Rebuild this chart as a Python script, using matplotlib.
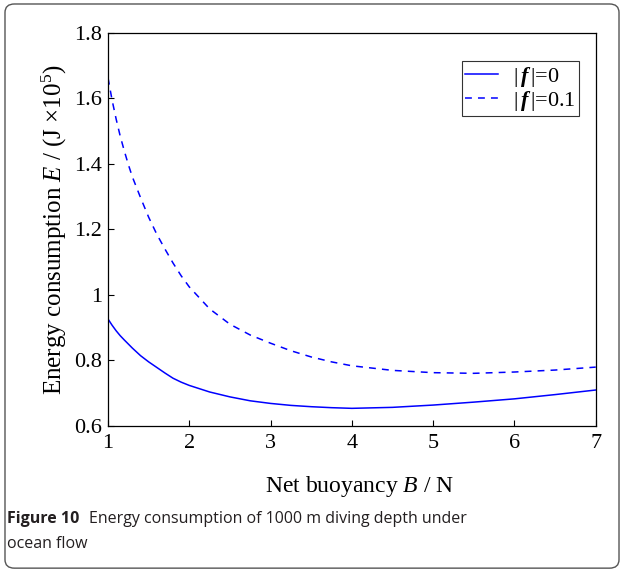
import matplotlib
matplotlib.use("Agg")
import matplotlib.pyplot as plt
from matplotlib.patches import FancyBboxPatch

plt.rcParams['font.family'] = 'Liberation Serif'
plt.rcParams['mathtext.fontset'] = 'custom'
plt.rcParams['mathtext.rm'] = 'Liberation Serif'
plt.rcParams['mathtext.it'] = 'Liberation Serif:italic'
plt.rcParams['mathtext.bf'] = 'Liberation Serif:bold:italic'

# values
b_f0 = [1.0, 1.05, 1.1, 1.15, 1.2, 1.3, 1.4, 1.5, 1.6, 1.7, 1.8, 1.9, 2.0, 2.25,
        2.5, 2.75, 3.0, 3.25, 3.5, 3.75, 4.0, 4.5, 5.0, 5.5, 6.0, 6.5, 7.0]
e_f0 = [0.926, 0.907, 0.890, 0.875, 0.862, 0.837, 0.814, 0.795, 0.778, 0.761,
        0.745, 0.733, 0.723, 0.703, 0.688, 0.676, 0.668, 0.662, 0.658, 0.655,
        0.653, 0.656, 0.663, 0.672, 0.682, 0.695, 0.709]

b_f01 = [1.0, 1.05, 1.1, 1.15, 1.2, 1.25, 1.3, 1.4, 1.5, 1.6, 1.7, 1.8, 1.9, 2.0,
         2.25, 2.5, 2.75, 3.0, 3.25, 3.5, 3.75, 4.0, 4.5, 5.0, 5.5, 6.0, 6.5, 7.0]
e_f01 = [1.663, 1.595, 1.537, 1.485, 1.440, 1.398, 1.360, 1.297, 1.237, 1.185,
         1.140, 1.097, 1.058, 1.024, 0.957, 0.910, 0.877, 0.852, 0.829, 0.810,
         0.795, 0.783, 0.769, 0.762, 0.760, 0.764, 0.770, 0.779]

labels = [r'|$\,\mathbf{f}\,$|=0', r'|$\,\mathbf{f}\,$|=0.1']
xticks = [1, 2, 3, 4, 5, 6, 7]
yticks = [0.6, 0.8, 1.0, 1.2, 1.4, 1.6, 1.8]
ytick_labels = ['0.6', '0.8', '1', '1.2', '1.4', '1.6', '1.8']

fig = plt.figure(figsize=(6.24, 5.71), dpi=100)
ax = fig.add_axes([0.1731, 0.2545, 0.7816, 0.6877])

ax.plot(b_f0, e_f0, color='#0000ff', lw=1.1, label=labels[0])
ax.plot(b_f01, e_f01, color='#0000ff', lw=1.1, ls=(0, (4.5, 4)), label=labels[1])

ax.set_xlim(1, 7)
ax.set_ylim(0.6, 1.8)
ax.set_xticks(xticks)
ax.set_yticks(yticks)
ax.set_yticklabels(ytick_labels)
ax.tick_params(direction='in', length=4, width=0.8, labelsize=16, colors='black')
ax.tick_params(axis='x', pad=6)
ax.tick_params(axis='y', pad=4)
for s in ax.spines.values():
    s.set_linewidth(0.9)

ax.set_xlabel(r'Net buoyancy $B$ / N', fontsize=17)
ax.xaxis.set_label_coords(0.515, -0.168, transform=ax.transAxes)
ax.xaxis.label.set_va('baseline')
ax.set_ylabel(r'Energy consumption $E$ / (J $\times$10$^5$)', fontsize=18, labelpad=4)

leg = ax.legend(loc='upper right', bbox_to_anchor=(0.9655, 0.928), fontsize=16,
                frameon=True, fancybox=False, edgecolor='black', handlelength=1.5,
                borderpad=0.15, labelspacing=0.0, handletextpad=0.65, borderaxespad=0)
leg.get_frame().set_linewidth(0.8)

# card border
fig.patches.append(FancyBboxPatch((0.008, 0.005), 0.984, 0.988,
                                  boxstyle='round,pad=0,rounding_size=0.015',
                                  transform=fig.transFigure, fill=False,
                                  edgecolor='#555555', lw=1.0))

# caption
t1 = fig.text(0.012, 1 - 523 / 571, 'Figure 10', fontsize=11.5, fontweight='bold',
              family='Open Sans', color='#231f20', va='baseline')
fig.canvas.draw()
bb = t1.get_window_extent()
x2 = (bb.x1 + 9) / fig.bbox.width
fig.text(x2, 1 - 523 / 571, 'Energy consumption of 1000 m diving depth under',
         fontsize=11.5, family='Open Sans', color='#231f20', va='baseline')
fig.text(0.012, 1 - 548 / 571, 'ocean flow', fontsize=11.5, family='Open Sans',
         color='#231f20', va='baseline')

fig.savefig('out.png', dpi=100)
